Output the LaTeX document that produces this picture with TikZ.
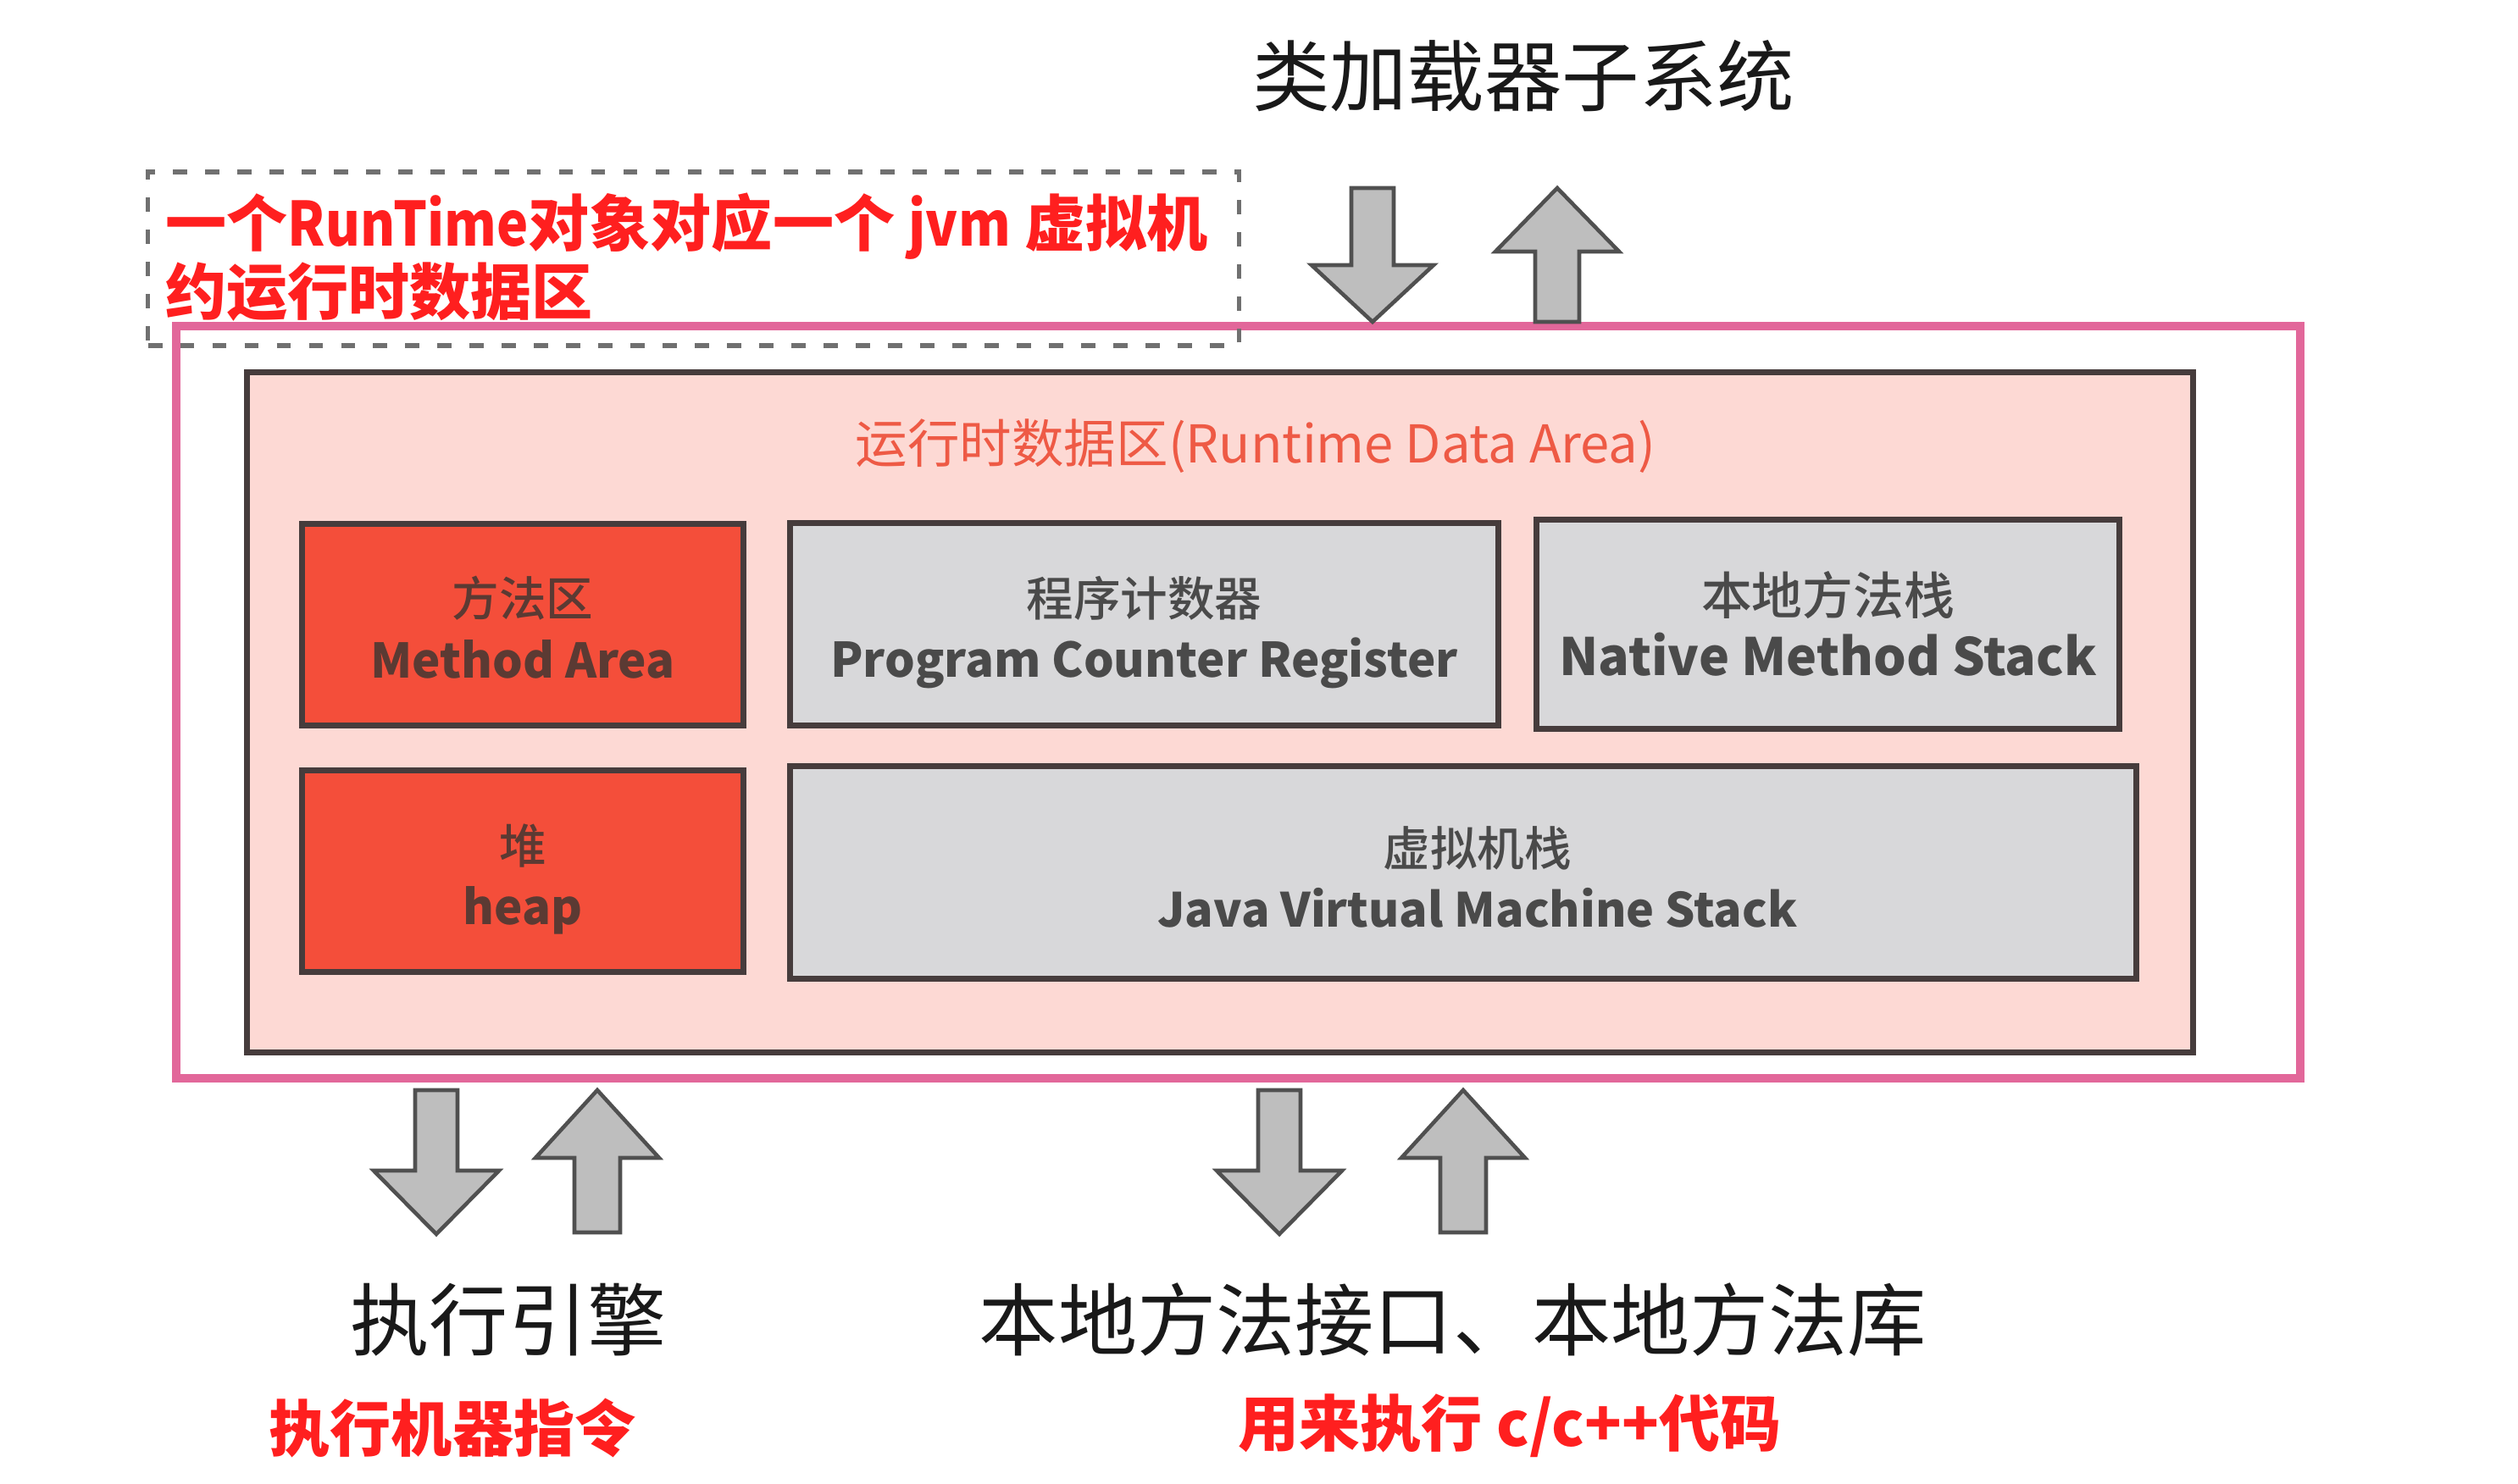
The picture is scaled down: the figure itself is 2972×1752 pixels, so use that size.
\documentclass[tikz,border=0pt]{standalone}
\usepackage{fontspec}
\setmainfont{Noto Sans CJK SC}
\newfontfamily\cjkmed{Noto Sans CJK SC}[UprightFont=* Medium]
\definecolor{pinkline}{HTML}{E2679A}
\definecolor{innerfill}{HTML}{FDD9D4}
\definecolor{boxborder}{HTML}{463C3C}
\definecolor{boxred}{HTML}{F44E3A}
\definecolor{boxgray}{HTML}{D8D8DA}
\definecolor{arrowgray}{HTML}{BEBEBE}
\definecolor{arrowborder}{HTML}{505050}
\definecolor{notered}{HTML}{FF1F1F}
\definecolor{titlered}{HTML}{EE5A45}
\definecolor{redtext}{HTML}{5B3A33}
\definecolor{graytext}{HTML}{4A4A4A}
\definecolor{dashgray}{HTML}{707070}
\newcommand\arrdown[6]{%
  \draw[blockarrow] (#1-#5,#2) -- (#1+#5,#2) -- (#1+#5,#3) -- (#1+#6,#3) -- (#1,#4) -- (#1-#6,#3) -- (#1-#5,#3) -- cycle;}
\newcommand\arrup[6]{%
  \draw[blockarrow] (#1,#2) -- (#1+#6,#3) -- (#1+#5,#3) -- (#1+#5,#4) -- (#1-#5,#4) -- (#1-#5,#3) -- (#1-#6,#3) -- cycle;}
\newcommand\boxlabel[4]{{\cjkmed\fontsize{#1}{20.5pt}\selectfont #3}\\{\fontsize{#2}{20.5pt}\bfseries\selectfont #4\vphantom{gp}}}
\newcommand\narrow[1]{\scalebox{0.87}[1]{#1}}
\begin{document}
\begin{tikzpicture}[x=0.01cm,y=-0.01cm,
  areabox/.style={draw=boxborder, line width=2pt, inner sep=0pt},
  redbox/.style={areabox, fill=boxred},
  graybox/.style={areabox, fill=boxgray},
  boxtext/.style={align=center, inner sep=0pt, font=\fontsize{16pt}{20.5pt}\selectfont},
  redlabel/.style={boxtext, text=redtext},
  graylabel/.style={boxtext, text=graytext},
  blockarrow/.style={fill=arrowgray, draw=arrowborder, line width=1.3pt, line join=miter},
  bigtext/.style={font=\fontsize{26.5pt}{30pt}\selectfont, text=black!90},
  notetext/.style={font=\fontsize{20.5pt}{20.5pt}\bfseries\selectfont, text=notered}]
\useasboundingbox (0,0) rectangle (2972,1752);
\fill[white] (0,0) rectangle (2972,1752);

% outer pink frame
\node[draw=pinkline, line width=2.8pt, minimum width=25.05cm, minimum height=8.88cm, inner sep=0pt] (frame) at (1461.5,829) {};
% runtime data area
\node[draw=boxborder, fill=innerfill, line width=2pt, minimum width=22.96cm, minimum height=8.02cm, inner sep=0pt] (rda) at (1440,841) {};
\node[font=\fontsize{17.5pt}{19pt}\selectfont, text=titlered] (rdatitle) at (1482,527) {运行时数据区(Runtime Data Area)};

\node[redbox, minimum width=5.2cm, minimum height=2.37cm] (method) at (617,737.5) {};
\node[redbox, minimum width=5.2cm, minimum height=2.37cm] (heap) at (617,1028.5) {};
\node[graybox, minimum width=8.35cm, minimum height=2.38cm] (pc) at (1350.5,737) {};
\node[graybox, minimum width=6.87cm, minimum height=2.46cm] (native) at (2157.5,737) {};
\node[graybox, minimum width=15.88cm, minimum height=2.5cm] (jvms) at (1727,1030) {};

\node[redlabel] (methodlbl) at ([yshift=-2.7pt]method.center) {\boxlabel{15.8pt}{16pt}{方法区}{Method Area}};
\node[redlabel] (heaplbl) at ([yshift=-3pt]heap.center) {\boxlabel{15.8pt}{16pt}{堆}{heap}};
\node[graylabel] (pclbl) at ([yshift=-2.7pt]pc.center) {\boxlabel{15.8pt}{16pt}{程序计数器}{Program Counter Register}};
\node[graylabel] (nativelbl) at ([yshift=-1.9pt]native.center) {\boxlabel{17pt}{17.3pt}{本地方法栈}{Native Method Stack}};
\node[graylabel] (jvmslbl) at ([xshift=4.8pt,yshift=-3.2pt]jvms.center) {\boxlabel{15.8pt}{15.8pt}{虚拟机栈}{Java Virtual Machine Stack}};

% dashed note
\node[draw=dashgray, line width=1.5pt, dash pattern=on 4.8pt off 6pt, minimum width=12.87cm, minimum height=2.05cm, inner sep=0pt] (notebox) at (818.5,305.5) {};
\node[notetext, anchor=west, align=left] (note) at (183,304) {一个\narrow{RunTime}对象对应一个 \narrow{jvm} 虚拟机\\约运行时数据区};

% class loader
\node[bigtext, font=\fontsize{26pt}{30pt}\selectfont] (loader) at (1798,90) {类加载器子系统};
\arrdown{1620}{222}{313}{380}{25}{72}
\arrup{1838}{222}{297}{380}{26}{73}

% bottom
\arrdown{515}{1287}{1382}{1457}{25}{74}
\arrup{705}{1287}{1367}{1455}{27}{73}
\arrdown{1510}{1287}{1382}{1457}{25}{74}
\arrup{1727}{1287}{1367}{1455}{27}{73}

\node[bigtext] (engine) at (600,1558) {执行引擎};
\node[bigtext] (nativeif) at (1715,1558) {本地方法接口、本地方法库};
\node[notetext] (enginenote) at (534,1686) {执行机器指令};
\node[notetext] (nativenote) at (1782,1683) {用来执行 c/c++代码};
\end{tikzpicture}
\end{document}
